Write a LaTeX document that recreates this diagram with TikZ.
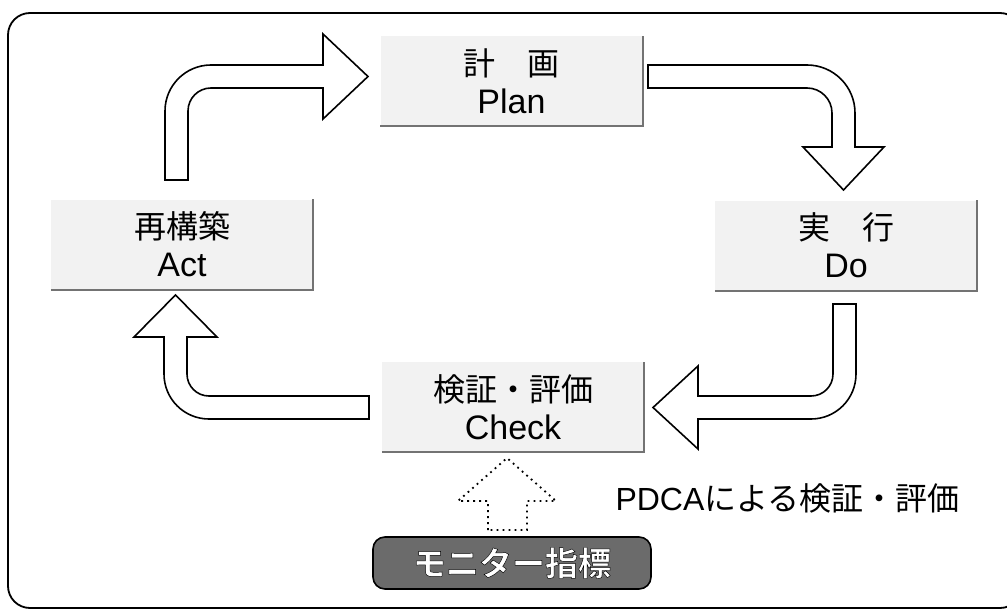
\documentclass[tikz,border=0pt]{standalone}
\usepackage{fontspec}
\setmainfont{Liberation Sans}
\newfontfamily\jpfont{Noto Sans CJK JP}
\newfontfamily\jpbold{Noto Sans CJK JP Bold}[FakeBold=1.4]
\newcommand\JP[1]{{\jpfont\fontsize{32}{38}\selectfont #1}}
\tikzset{
  frameline/.style={line width=1.8pt, rounded corners=22pt},
  stage/.style={fill=black!5, inner sep=0pt, minimum width=262pt, minimum height=90pt,
    align=center, font=\fontsize{34}{38}\selectfont},
  stageedge/.style={draw=black!55, line width=1.6pt},
  blockarrow/.style={draw=black, line width=1.6pt, fill=white, line join=miter},
  dotarrow/.style={draw=black, line width=1.8pt, dash pattern=on 1.8pt off 4.2pt, fill=white},
  monitor/.style={draw=black, line width=1.6pt, fill=black!58, rounded corners=12pt,
    minimum width=278pt, minimum height=52pt, inner sep=0pt},
  plain/.style={inner sep=0pt, font=\fontsize{32}{38}\selectfont}
}
\begin{document}
\begin{tikzpicture}[x=1pt,y=-1pt]
\useasboundingbox (0,0) rectangle (1007,610);
\draw[frameline] (8,13) rectangle (1022,608);

% stage boxes
\node[stage] (plan)  at (511.5,81)  {\JP{計　画}\\Plan};
\node[stage] (act)   at (182,244.5) {\JP{再構築}\\Act};
\node[stage] (do)    at (846,245.5) {\JP{実　行}\\Do};
\node[stage] (check) at (513,407)   {\JP{検証・評価}\\Check};
\foreach \n in {plan,act,do,check}{
  \draw[stageedge] (\n.south west) -- (\n.south east) -- (\n.north east);
}

% Act -> Plan
\draw[blockarrow] (165,180) -- (165,111) .. controls (165,85.6) and (185.6,65) .. (211,65)
  -- (323,65) -- (323,34) -- (368,76.5) -- (323,119) -- (323,88) -- (211,88)
  .. controls (198.3,88) and (188,98.3) .. (188,111) -- (188,180) -- cycle;
% Plan -> Do
\draw[blockarrow] (648,65) -- (807,65) .. controls (833.5,65) and (855,86.5) .. (855,113)
  -- (855,147) -- (884,147) -- (843.5,190) -- (803,147) -- (832,147) -- (832,113)
  .. controls (832,99.2) and (820.8,88) .. (807,88) -- (648,88) -- cycle;
% Do -> Check
\draw[blockarrow] (833,304) -- (856,304) -- (856,374) .. controls (856,398.9) and (835.9,419) .. (811,419)
  -- (698,419) -- (698,449) -- (653,407.5) -- (698,366) -- (698,396) -- (811,396)
  .. controls (823.2,396) and (833,386.2) .. (833,374) -- cycle;
% Check -> Act
\draw[blockarrow] (369,396) -- (369,419) -- (209,419) .. controls (184.1,419) and (164,398.9) .. (164,374)
  -- (164,337) -- (134,337) -- (175.5,295) -- (217,337) -- (187,337) -- (187,374)
  .. controls (187,386.2) and (196.8,396) .. (209,396) -- cycle;

% monitor indicator
\node[monitor] (mon) at (512,563) {};
\node[inner sep=0pt, font=\fontsize{33}{38}\selectfont] (montext) at (mon.center)
  {\color{white}\special{pdf:literal direct 0 G}\jpbold モニター指標};
\draw[dotarrow] (488,530) -- (488,501) -- (458,501) -- (507,458) -- (556,501)
  -- (527,501) -- (527,530) -- cycle;

% caption
\node[plain] (pdca) at (787.5,498.5) {PDCA{\jpfont による検証・評価}};
\end{tikzpicture}
\end{document}
